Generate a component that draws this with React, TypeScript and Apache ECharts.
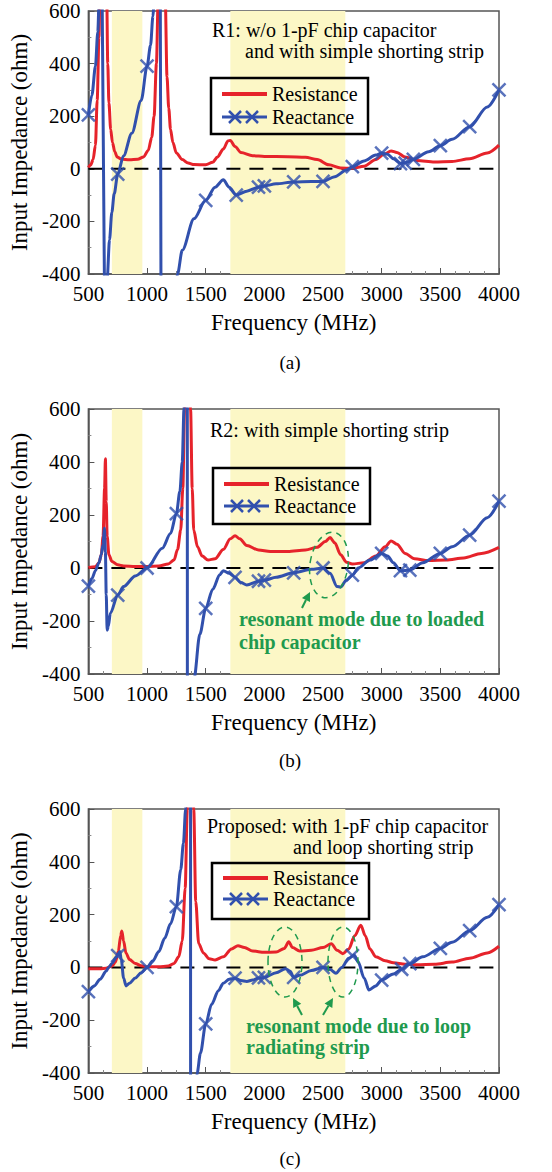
import React, { useEffect, useRef } from "react";
import * as echarts from "echarts";

// ---------- data ----------
const bandRanges: number[][] = [[700, 960], [1710, 2690]];
const zeroLine: number[][] = [[500, 0], [4000, 0]];

const resistanceA: number[][] = [
  [500, 5], [520, 15], [540, 35], [560, 90], [575, 260], [590, 500], [600, 700], [630, 1200], [655, 700],
  [665, 400], [675, 250], [690, 150], [705, 100], [725, 65], [745, 45], [780, 37], [850, 34], [920, 36],
  [970, 45], [1010, 70], [1040, 120], [1060, 200], [1080, 400], [1095, 650], [1125, 1200], [1155, 650],
  [1170, 350], [1185, 230], [1200, 150], [1220, 100], [1250, 60], [1300, 35], [1350, 22], [1400, 16],
  [1500, 15], [1560, 25], [1600, 45], [1650, 75], [1690, 106], [1710, 108], [1750, 85], [1800, 62],
  [1900, 50], [2000, 47], [2200, 46], [2350, 44], [2450, 35], [2550, 15], [2650, 3], [2750, 2],
  [2850, 10], [2950, 35], [3020, 55], [3080, 68], [3130, 62], [3200, 45], [3300, 32], [3450, 26],
  [3600, 28], [3750, 38], [3900, 60], [4000, 90],
];
const reactanceA: number[][] = [
  [500, 205], [530, 280], [560, 390], [580, 520], [595, 700], [605, 1000], [650, -835], [660, -420],
  [680, -270], [700, -165], [720, -95], [750, -20], [800, 50], [870, 135], [950, 260], [1000, 390],
  [1030, 470], [1050, 580], [1070, 750], [1105, 1500], [1135, -3000], [1200, -900], [1260, -400],
  [1300, -310], [1400, -190], [1500, -120], [1580, -70], [1650, -42], [1700, -70], [1760, -100],
  [1850, -85], [1950, -70], [2000, -65], [2100, -57], [2250, -50], [2400, -48], [2500, -48], [2600, -30],
  [2700, -5], [2750, 8], [2850, 30], [2950, 52], [3000, 60], [3050, 55], [3100, 38], [3160, 20],
  [3220, 25], [3270, 36], [3400, 65], [3500, 88], [3600, 112], [3750, 160], [3900, 235], [4000, 300],
];
const markersA: number[][] = [
  [500, 205], [750, -20], [1000, 390], [1500, -120], [1760, -100], [1950, -70], [2000, -65], [2250, -50],
  [2500, -48], [2750, 8], [3000, 60], [3160, 20], [3200, 22], [3270, 36], [3500, 88], [3750, 160], [4000, 300],
];

const resistanceB: number[][] = [
  [500, 2], [560, 5], [590, 20], [610, 50], [625, 120], [638, 300], [645, 412], [652, 250], [660, 120],
  [675, 50], [700, 25], [750, 12], [800, 8], [900, 6], [1000, 6], [1100, 8], [1180, 15], [1230, 30],
  [1260, 70], [1287, 143], [1305, 300], [1320, 600], [1345, 1500], [1371, 600], [1385, 300], [1398, 143],
  [1430, 80], [1470, 45], [1520, 30], [1580, 35], [1650, 70], [1710, 110], [1750, 122], [1790, 110],
  [1850, 85], [1950, 68], [2050, 62], [2200, 62], [2350, 68], [2450, 78], [2520, 100], [2560, 115],
  [2600, 95], [2650, 50], [2700, 22], [2750, 15], [2850, 20], [2950, 45], [3030, 80], [3080, 102],
  [3130, 90], [3200, 55], [3280, 35], [3400, 28], [3550, 30], [3700, 38], [3850, 55], [4000, 78],
];
const reactanceB: number[][] = [
  [500, -68], [530, -40], [560, -10], [590, 20], [610, 50], [625, 90], [637, 150], [645, 60], [652, -100],
  [660, -235], [670, -220], [687, -171], [750, -102], [800, -70], [900, -30], [1000, 0], [1130, 75],
  [1200, 130], [1250, 205], [1280, 290], [1300, 400], [1315, 600], [1330, 1200], [1342, 3000],
  [1345, -3000], [1380, -800], [1400, -420], [1450, -250], [1500, -152], [1560, -80], [1620, -25],
  [1650, -10], [1700, -20], [1750, -35], [1800, -55], [1850, -64], [1950, -50], [2000, -46], [2100, -35],
  [2250, -18], [2400, -5], [2500, 0], [2560, -20], [2620, -70], [2650, -72], [2700, -45], [2750, -27],
  [2800, 0], [2900, 30], [3000, 55], [3050, 45], [3100, 20], [3160, -10], [3240, -8], [3350, 20],
  [3500, 55], [3600, 80], [3750, 124], [3900, 190], [4000, 252],
];
const markersB: number[][] = [
  [500, -68], [750, -102], [1000, 0], [1250, 205], [1500, -152], [1750, -35], [1950, -50], [2000, -46],
  [2250, -18], [2500, 0], [2750, -27], [3000, 55], [3160, -10], [3240, -8], [3500, 55], [3750, 124], [4000, 252],
];

const resistanceC: number[][] = [
  [500, -5], [600, -5], [650, -3], [700, 5], [730, 20], [755, 60], [775, 120], [785, 138], [800, 100],
  [820, 55], [850, 30], [900, 15], [950, 6], [1000, 2], [1100, 2], [1180, 5], [1230, 15], [1270, 40],
  [1300, 100], [1325, 300], [1343, 600], [1370, 1500], [1398, 600], [1415, 250], [1440, 91], [1480, 55],
  [1530, 33], [1580, 28], [1650, 40], [1720, 70], [1775, 82], [1830, 75], [1900, 62], [2000, 57],
  [2100, 58], [2170, 72], [2208, 97], [2240, 75], [2300, 62], [2400, 65], [2500, 75], [2571, 90],
  [2620, 65], [2669, 52], [2720, 70], [2770, 120], [2822, 160], [2860, 120], [2900, 70], [2950, 40],
  [3030, 25], [3100, 18], [3200, 12], [3300, 10], [3450, 12], [3600, 20], [3750, 35], [3900, 55], [4000, 80],
];
const reactanceC: number[][] = [
  [500, -92], [550, -70], [600, -45], [650, -15], [673, 0], [700, 15], [740, 40], [768, 60], [780, 30],
  [800, -40], [821, -70], [850, -60], [900, -40], [950, -20], [1000, 0], [1050, 25], [1100, 60],
  [1150, 110], [1200, 165], [1250, 230], [1287, 370], [1310, 470], [1329, 600], [1350, 1000],
  [1370, 3000], [1372, -3000], [1400, -900], [1427, -400], [1455, -325], [1500, -214], [1550, -140],
  [1608, -88], [1650, -60], [1700, -45], [1750, -41], [1800, -50], [1850, -53], [1900, -48], [1950, -40],
  [2000, -38], [2100, -20], [2180, -5], [2220, -15], [2250, -38], [2300, -30], [2400, -12], [2500, 0],
  [2560, -8], [2610, -22], [2660, 0], [2720, 35], [2766, 47], [2800, 20], [2850, -40], [2892, -86],
  [2950, -70], [3000, -48], [3100, -25], [3170, -7], [3240, 14], [3350, 40], [3500, 72], [3600, 95],
  [3750, 139], [3900, 190], [4000, 238],
];
const markersC: number[][] = [
  [500, -92], [750, 45], [1000, 0], [1250, 230], [1500, -214], [1750, -41], [1950, -40], [2000, -38],
  [2250, -38], [2500, 0], [2750, 45], [3000, -48], [3170, -7], [3240, 14], [3500, 72], [3750, 139], [4000, 238],
];

const panelLabels = ["(a)", "(b)", "(c)"];
const titleLines: string[][] = [
  ["R1: w/o 1-pF chip capacitor", "and with simple shorting strip"],
  ["R2: with simple shorting strip"],
  ["Proposed: with 1-pF chip capacitor", "and loop shorting strip"],
];

// ---------- styles ----------
const RED = "#e6232b";
const BLUE = "#3150ad";
const GREEN = "#1f9a4e";
const BAND = "#fcf7c6";
const AXIS = "#555";
const FONT = "Times New Roman, Liberation Serif, DejaVu Serif, serif";

const gridBoxes = [
  { top: 11, height: 263 },
  { top: 409, height: 265 },
  { top: 809, height: 264 },
];
const legendBoxes = [
  { x: 211, y: 78, r1: 94, r2: 117 },
  { x: 213, y: 468, r1: 484, r2: 506 },
  { x: 212, y: 863, r1: 878, r2: 899 },
];
const titlePos = [
  [[212, 30], [245, 51]],
  [[210, 430]],
  [[207, 826], [293, 847]],
];

const XSYM = "path://M0,0L10,10M10,0L0,10";

function arrow(tail: number[], tip: number[]) {
  const dx = tip[0] - tail[0];
  const dy = tip[1] - tail[1];
  const L = Math.hypot(dx, dy);
  const ux = dx / L, uy = dy / L;
  const hl = 9, hw = 4.5;
  const bx = tip[0] - ux * hl, by = tip[1] - uy * hl;
  const px = -uy, py = ux;
  return [
    { type: "line", z: 100, shape: { x1: tail[0], y1: tail[1], x2: bx, y2: by }, style: { stroke: GREEN, lineWidth: 2 } },
    {
      type: "polygon", z: 100,
      shape: { points: [[tip[0], tip[1]], [bx + px * hw, by + py * hw], [bx - px * hw, by - py * hw]] },
      style: { fill: GREEN },
    },
  ];
}

function ellipse(cx: number, cy: number, rx: number, ry: number, rot = 0) {
  return {
    type: "ellipse", z: 100, x: cx, y: cy, rotation: rot,
    shape: { cx: 0, cy: 0, rx, ry },
    style: { fill: "none", stroke: GREEN, lineWidth: 1.5, lineDash: [6, 5] },
  };
}

function text(str: string, x: number, y: number, opts: any = {}) {
  return {
    type: "text", z: 100, x, y,
    style: {
      text: str, fontSize: 20, fontFamily: FONT, fill: "#000",
      verticalAlign: "middle", align: "left", ...opts,
    },
  };
}

function legend(b: { x: number; y: number; r1: number; r2: number }) {
  const els: any[] = [
    { type: "rect", z: 100, shape: { x: b.x, y: b.y, width: 157, height: 56 }, style: { fill: "none", stroke: "#000", lineWidth: 2.5 } },
    { type: "line", z: 100, shape: { x1: b.x + 11, y1: b.r1, x2: b.x + 56, y2: b.r1 }, style: { stroke: RED, lineWidth: 4 } },
    { type: "line", z: 100, shape: { x1: b.x + 11, y1: b.r2, x2: b.x + 56, y2: b.r2 }, style: { stroke: BLUE, lineWidth: 3 } },
    text("Resistance", b.x + 61, b.r1),
    text("Reactance", b.x + 61, b.r2),
  ];
  [b.x + 24, b.x + 41].forEach((cx) => {
    const s = 6;
    els.push({ type: "line", z: 100, shape: { x1: cx - s, y1: b.r2 - s, x2: cx + s, y2: b.r2 + s }, style: { stroke: BLUE, lineWidth: 2.5 } });
    els.push({ type: "line", z: 100, shape: { x1: cx - s, y1: b.r2 + s, x2: cx + s, y2: b.r2 - s }, style: { stroke: BLUE, lineWidth: 2.5 } });
  });
  return els;
}

export default function App() {
  const ref = useRef<HTMLDivElement>(null);

  useEffect(() => {
    if (!ref.current) return;
    const chart = echarts.init(ref.current, null, { renderer: "svg" });

    const resistance = [resistanceA, resistanceB, resistanceC];
    const reactance = [reactanceA, reactanceB, reactanceC];
    const markers = [markersA, markersB, markersC];

    const grid = gridBoxes.map((g) => ({
      left: 81, width: 418, top: g.top, height: g.height,
      show: true, borderColor: AXIS, borderWidth: 1.5, backgroundColor: "transparent",
    }));

    const xAxis = gridBoxes.map((_, i) => ({
      type: "value", gridIndex: i, min: 500, max: 4000, interval: 500,
      name: "Frequency (MHz)", nameLocation: "middle", nameGap: 37,
      nameTextStyle: { fontSize: 23, fontFamily: FONT, color: "#000" },
      axisLine: { show: true, onZero: false, lineStyle: { color: AXIS, width: 1.5 } },
      axisTick: { show: true, inside: true, length: 6, lineStyle: { color: AXIS } },
      minorTick: { show: true, splitNumber: 4, length: 3, lineStyle: { color: "#888" } },
      splitLine: { show: false },
      axisLabel: { fontSize: 21, fontFamily: FONT, color: "#000", margin: 9, formatter: (v: number) => String(v) },
    }));

    const yAxis = gridBoxes.map((_, i) => ({
      type: "value", gridIndex: i, min: -400, max: 600, interval: 200,
      name: "Input Impedance (ohm)", nameLocation: "middle", nameGap: 53,
      nameTextStyle: { fontSize: 23, fontFamily: FONT, color: "#000" },
      axisLine: { show: true, lineStyle: { color: AXIS, width: 1.5 } },
      axisTick: { show: true, inside: true, length: 6, lineStyle: { color: AXIS } },
      minorTick: { show: true, splitNumber: 2, length: 3, lineStyle: { color: "#888" } },
      splitLine: { show: false },
      axisLabel: { fontSize: 21, fontFamily: FONT, color: "#000", margin: 8, formatter: (v: number) => String(v) },
    }));

    const series: any[] = [];
    gridBoxes.forEach((_, i) => {
      series.push({
        type: "line", xAxisIndex: i, yAxisIndex: i, data: zeroLine, z: 0, silent: true,
        showSymbol: false, lineStyle: { opacity: 0 },
        markArea: {
          silent: true, itemStyle: { color: BAND, opacity: 1 },
          data: bandRanges.map(([a, b]) => [{ xAxis: a }, { xAxis: b }]),
        },
      });
      series.push({
        type: "line", xAxisIndex: i, yAxisIndex: i, data: zeroLine, z: 2, silent: true,
        showSymbol: false, lineStyle: { color: "#000", width: 2, type: [14, 9] },
      });
      series.push({
        name: "Resistance", type: "line", xAxisIndex: i, yAxisIndex: i, data: resistance[i], z: 3,
        showSymbol: false, smooth: 0.3, smoothMonotone: "x", clip: true,
        lineStyle: { color: RED, width: 3 }, itemStyle: { color: RED },
      });
      series.push({
        name: "Reactance", type: "line", xAxisIndex: i, yAxisIndex: i, data: reactance[i], z: 4,
        showSymbol: false, smooth: 0.3, smoothMonotone: "x", clip: true,
        lineStyle: { color: BLUE, width: 3 }, itemStyle: { color: BLUE },
      });
      series.push({
        name: "Reactance", type: "scatter", xAxisIndex: i, yAxisIndex: i, data: markers[i], z: 5,
        symbol: XSYM, symbolSize: 13,
        itemStyle: { color: "none", borderColor: BLUE, borderWidth: 2.5 },
      });
    });

    const graphics: any[] = [];
    legendBoxes.forEach((b) => graphics.push(...legend(b)));
    titleLines.forEach((lines, i) => {
      lines.forEach((l, j) => graphics.push(text(l, titlePos[i][j][0], titlePos[i][j][1])));
    });
    const labelY = [362, 760, 1158];
    panelLabels.forEach((l, i) => graphics.push(text(l, 290, labelY[i], { align: "center", fontSize: 19 })));

    const green = { fill: GREEN, fontWeight: "bold", fontSize: 20 };
    graphics.push(text("resonant mode due to loaded", 239, 619, green));
    graphics.push(text("chip capacitor", 239, 642, green));
    graphics.push(text("resonant mode due to loop", 246, 1026, green));
    graphics.push(text("radiating strip", 246, 1047, green));

    graphics.push(ellipse(329, 565, 19, 33, -0.15));
    graphics.push(...arrow([302, 608], [310, 592]));
    graphics.push(ellipse(285, 962, 17, 35));
    graphics.push(ellipse(343, 962, 15, 35));
    graphics.push(...arrow([302, 1015], [293, 998]));
    graphics.push(...arrow([323, 1015], [333, 998]));

    chart.setOption({
      animation: false,
      backgroundColor: "#fff",
      grid, xAxis, yAxis, series,
      graphic: { elements: graphics },
    });

    return () => chart.dispose();
  }, []);

  return (
    <div
      ref={ref}
      style={{ position: "absolute", left: 0, top: 0, width: 552, height: 1172, background: "#fff" }}
    />
  );
}
